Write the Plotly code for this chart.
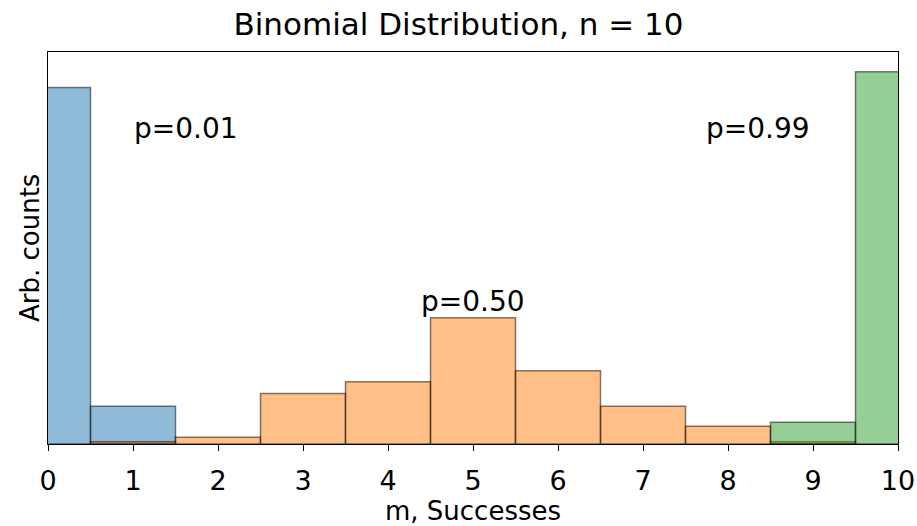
import plotly.graph_objects as go

# ---- data (arbitrary units) ----
m_values = list(range(11))
tick_labels = [str(v) for v in m_values]
p001_counts = [0.904, 0.096, 0, 0, 0, 0, 0, 0, 0, 0, 0]
p050_counts = [0, 0.006, 0.017, 0.128, 0.158, 0.320, 0.186, 0.096, 0.045, 0.006, 0]
p099_counts = [0, 0, 0, 0, 0, 0, 0, 0, 0, 0.055, 0.944]

series = [
    ("p=0.01", p001_counts, "rgba(31,119,180,0.5)"),
    ("p=0.50", p050_counts, "rgba(255,127,14,0.5)"),
    ("p=0.99", p099_counts, "rgba(44,160,44,0.5)"),
]

FONT = "DejaVu Sans"
fig = go.Figure()
for name, vals, col in series:
    xs = [x for x, v in zip(m_values, vals) if v > 0]
    ys = [v for v in vals if v > 0]
    fig.add_trace(go.Bar(
        x=xs, y=ys, width=1.0, name=name,
        marker=dict(color=col, line=dict(color="rgba(0,0,0,0.5)", width=1.5)),
        showlegend=False,
    ))

fig.update_layout(
    width=917, height=526,
    margin=dict(l=48, r=19, t=52, b=82, autoexpand=False),
    barmode="overlay",
    plot_bgcolor="white", paper_bgcolor="white",
    font=dict(family=FONT, color="black", size=26),
    title=dict(text="Binomial Distribution, n = 10", x=0.5, xanchor="center",
               y=1 - 24 / 526, yanchor="middle", yref="container",
               font=dict(family=FONT, size=31, color="black")),
    xaxis=dict(range=[0, 10], tickmode="array", tickvals=m_values, ticktext=tick_labels,
               ticks="outside", ticklen=6, tickwidth=1.2, tickcolor="black",
               showline=True, linecolor="black", linewidth=1.2, mirror=True,
               showgrid=False, zeroline=False, automargin=False,
               ticklabelstandoff=6,
               tickfont=dict(family=FONT, size=27, color="black"),
               title=dict(text="m, Successes", standoff=12,
                          font=dict(family=FONT, size=26, color="black"))),
    yaxis=dict(range=[0, 0.994], showticklabels=False, ticks="",
               showline=True, linecolor="black", linewidth=1.2, mirror=True,
               showgrid=False, zeroline=False, automargin=False),
)

# y-axis label
fig.add_annotation(text="Arb. counts", xref="paper", yref="paper",
                   x=-18 / 850, y=0.5, textangle=-90, showarrow=False,
                   xanchor="center", yanchor="middle",
                   font=dict(family=FONT, size=26, color="black"))

# series labels
labels = [("p=0.01", 1.62, 0.80), ("p=0.50", 5.0, 0.361), ("p=0.99", 8.35, 0.80)]
for txt, lx, ly in labels:
    fig.add_annotation(text=txt, x=lx, y=ly, xref="x", yref="y", showarrow=False,
                       xanchor="center", yanchor="middle",
                       font=dict(family=FONT, size=28, color="black"))

fig.write_html("out.html")
